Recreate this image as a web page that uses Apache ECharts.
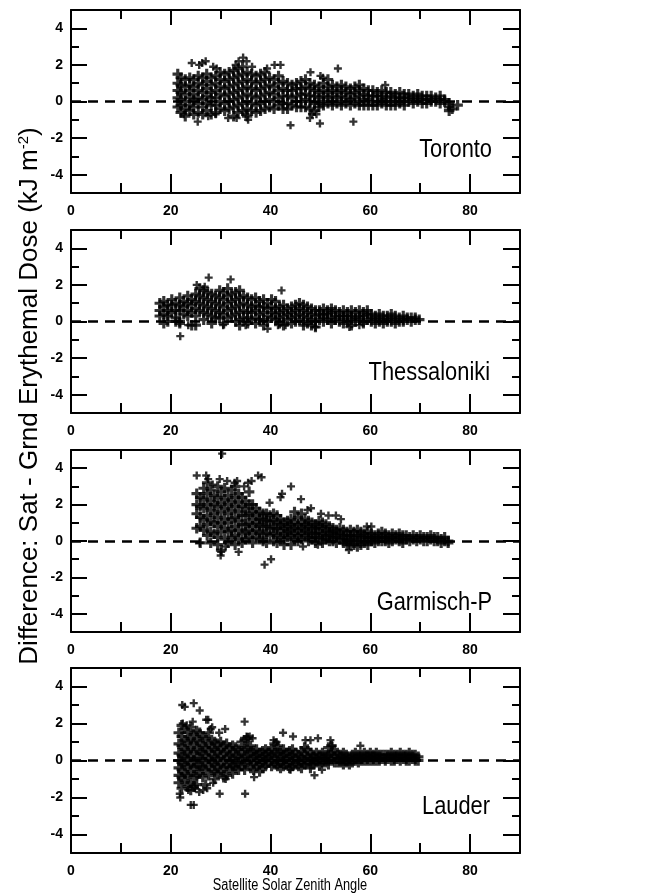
<!DOCTYPE html>
<html lang="en">
<head>
<meta charset="utf-8">
<title>Sat - Grnd Erythemal Dose</title>
<script src="https://cdn.jsdelivr.net/npm/echarts@6/dist/echarts.min.js"></script>
<style>
  * { margin: 0; padding: 0; }
  body { background: #fff; }
  #chart { width: 649px; height: 894px; }
</style>
</head>
<body>
<div id="chart"></div>
<script>
// station names, one per panel
var stations = ['Toronto', 'Thessaloniki', 'Garmisch-P', 'Lauder'];
var xLabels = [0, 20, 40, 60, 80];
var yLabels = [-4, -2, 0, 2, 4];

// values: [zenith angle, [differences at that angle]]
var torontoCols = [
  [21.4, [1.5, 1.0, 0.6, 0.2, -0.3]], [22.0, [1.3, 0.9, 0.5, 0.1, -0.2, -0.6]],
  [22.9, [1.2, 0.8, 0.4, 0.0, -0.4, -0.8]], [23.8, [1.3, 0.9, 0.6, 0.2, -0.2, -0.5]],
  [24.6, [1.2, 0.8, 0.4, 0.1, -0.3, -0.7]], [25.5, [1.4, 1.0, 0.6, 0.2, -0.1, -0.6]],
  [26.4, [1.3, 0.9, 0.5, 0.1, -0.3, -0.7]], [27.2, [1.5, 1.1, 0.7, 0.3, -0.1, -0.5]],
  [28.1, [1.3, 0.9, 0.5, 0.2, -0.2, -0.7]], [29.0, [1.4, 1.0, 0.6, 0.2, -0.2, -0.6]],
  [29.9, [1.6, 1.2, 0.8, 0.4, 0.0, -0.4]], [30.8, [1.5, 1.1, 0.7, 0.3, -0.1, -0.5]],
  [31.7, [1.6, 1.2, 0.8, 0.4, 0.0, -0.4]], [32.6, [1.7, 1.3, 0.9, 0.5, 0.1, -0.3, -0.8]],
  [33.5, [1.8, 1.4, 1.0, 0.6, 0.2, -0.2, -0.6]], [34.4, [1.9, 1.5, 1.1, 0.7, 0.3, -0.1, -0.5]],
  [35.3, [1.6, 1.2, 0.8, 0.4, 0.0, -0.4, -0.8]], [36.2, [1.5, 1.1, 0.7, 0.3, -0.1, -0.5]],
  [37.1, [1.4, 1.0, 0.6, 0.2, -0.2, -0.6]], [38.0, [1.5, 1.1, 0.7, 0.3, -0.1, -0.5]],
  [38.9, [1.6, 1.2, 0.8, 0.4, 0.0, -0.4]], [39.8, [1.3, 0.9, 0.5, 0.1, -0.3]],
  [40.7, [1.2, 0.8, 0.4, 0.0, -0.4]], [41.6, [1.4, 1.0, 0.6, 0.2, -0.2]],
  [42.5, [1.1, 0.7, 0.3, -0.1, -0.4]], [43.4, [1.0, 0.6, 0.3, -0.1, -0.4]],
  [44.3, [0.9, 0.6, 0.2, -0.2]], [45.2, [1.0, 0.7, 0.3, 0.0, -0.3]],
  [46.1, [1.1, 0.7, 0.4, 0.0, -0.3]], [47.0, [1.2, 0.8, 0.4, 0.1, -0.3]],
  [47.9, [1.0, 0.7, 0.3, 0.0, -0.4]], [48.8, [0.9, 0.6, 0.3, -0.1, -0.5]],
  [49.7, [0.8, 0.5, 0.2, -0.1, -0.3]], [50.6, [1.0, 0.6, 0.3, 0.0, -0.2]],
  [51.5, [1.2, 0.8, 0.5, 0.2, -0.1]], [52.4, [0.9, 0.6, 0.3, 0.0, -0.2]],
  [53.3, [0.8, 0.5, 0.2, -0.1]], [54.2, [0.9, 0.6, 0.3, 0.0, -0.2]],
  [55.1, [0.8, 0.5, 0.2, -0.1]], [56.0, [0.7, 0.4, 0.1, -0.2]],
  [56.9, [0.8, 0.5, 0.2, -0.1]], [57.8, [0.9, 0.6, 0.3, 0.0, -0.2]],
  [58.7, [0.7, 0.4, 0.1, -0.2]], [59.6, [0.6, 0.3, 0.1, -0.2]],
  [60.5, [0.6, 0.3, 0.0, -0.2]], [61.4, [0.5, 0.3, 0.0, -0.2]],
  [62.3, [0.6, 0.3, 0.1, -0.1]], [63.2, [0.5, 0.2, 0.0, -0.2]],
  [64.1, [0.5, 0.3, 0.0, -0.2]], [65.0, [0.4, 0.2, 0.0, -0.2]],
  [65.9, [0.5, 0.2, 0.0, -0.1]], [66.8, [0.4, 0.2, 0.0, -0.2]],
  [67.7, [0.4, 0.2, 0.0]], [68.6, [0.3, 0.1, -0.1]], [69.5, [0.4, 0.2, 0.0]],
  [70.4, [0.3, 0.1, -0.1]], [71.3, [0.3, 0.1, -0.1]], [72.2, [0.3, 0.1, 0.0]],
  [73.1, [0.2, 0.0]], [74.0, [0.3, 0.1, -0.1]], [74.9, [0.1, 0.0]],
  [75.8, [-0.1, -0.3, -0.5]], [76.4, [-0.4]], [77.5, [-0.2]]
];
var torontoOut = [
  [24.2, 2.1], [25.7, 2.0], [26.3, 2.1], [27.0, 2.2], [28.5, 1.9], [29.2, 1.8], [33.0, 2.0],
  [33.6, 2.2], [34.5, 2.4], [35.2, 2.2], [36.3, 1.9], [39.3, 1.8], [40.8, 2.0], [42.0, 2.0],
  [48.0, 1.6], [50.0, 1.4], [50.5, 1.3], [53.5, 1.8], [63.0, 0.9], [22.6, -0.7], [25.4, -1.1],
  [27.5, -0.8], [29.0, -0.7], [31.5, -0.9], [33.2, -0.9], [35.5, -1.0], [35.0, -0.7],
  [44.0, -1.3], [48.3, -0.7], [49.2, -0.7], [49.9, -1.2], [56.6, -1.1], [47.9, -0.9]
];

var thessCols = [
  [17.8, [1.0, 0.6, 0.3]], [18.6, [1.1, 0.8, 0.4, -0.1]], [19.4, [0.9, 0.6, 0.3, 0.0]],
  [20.2, [1.2, 0.9, 0.5]], [21.0, [1.0, 0.6, 0.2, 0.0]], [21.8, [1.3, 0.9, 0.6, 0.0, -0.1]],
  [22.6, [1.1, 0.8, 0.4]], [23.4, [1.4, 1.0, 0.6, 0.3]], [24.2, [1.2, 0.9, 0.5, -0.2]],
  [25.0, [1.5, 1.1, 0.7, 0.3, -0.2]], [25.8, [1.8, 1.4, 1.0, 0.6]], [26.6, [1.7, 1.3, 0.9, 0.5, 0.1]],
  [27.4, [1.6, 1.2, 0.8, 0.4]], [28.2, [1.5, 1.1, 0.7, 0.3, -0.1]], [29.0, [1.4, 1.0, 0.6, 0.2]],
  [29.8, [1.7, 1.3, 0.9, 0.5, 0.2]], [30.6, [1.6, 1.2, 0.8, 0.4, -0.1]], [31.4, [1.8, 1.4, 1.0, 0.6, 0.2]],
  [32.2, [1.5, 1.1, 0.7, 0.3]], [33.0, [1.6, 1.2, 0.8, 0.4, 0.0]], [33.8, [1.7, 1.3, 0.9, 0.5, 0.1, -0.2]],
  [34.6, [1.4, 1.0, 0.6, 0.2]], [35.4, [1.3, 0.9, 0.5, 0.2, -0.1]], [36.2, [1.2, 0.8, 0.5, 0.1]],
  [37.0, [1.3, 0.9, 0.6, 0.2, -0.1]], [37.8, [1.1, 0.8, 0.4, 0.1]], [38.6, [1.2, 0.8, 0.5, 0.1, -0.2]],
  [39.4, [1.0, 0.7, 0.3, 0.0]], [40.2, [1.2, 0.8, 0.5, 0.2]], [41.0, [1.1, 0.7, 0.4, 0.1]],
  [41.8, [0.8, 0.5, 0.2, -0.1]], [42.6, [0.9, 0.6, 0.3, -0.2]], [43.4, [0.7, 0.4, 0.1]],
  [44.2, [0.8, 0.5, 0.2, -0.1]], [45.0, [0.9, 0.6, 0.3, 0.0]], [45.8, [1.0, 0.7, 0.4, 0.1]],
  [46.6, [0.9, 0.6, 0.3, 0.0, -0.2]], [47.4, [0.8, 0.5, 0.2, -0.1]], [48.2, [0.7, 0.4, 0.1, -0.2]],
  [49.0, [0.6, 0.3, 0.0, -0.3]], [49.8, [0.6, 0.4, 0.1]], [50.6, [0.7, 0.4, 0.2, 0.0]],
  [51.4, [0.6, 0.4, 0.1]], [52.2, [0.7, 0.5, 0.2, -0.1]], [53.0, [0.6, 0.3, 0.1]],
  [53.8, [0.5, 0.3, 0.0]], [54.6, [0.6, 0.3, 0.1, -0.1]], [55.4, [0.5, 0.3, 0.0]],
  [56.2, [0.6, 0.3, 0.1, -0.2]], [57.0, [0.5, 0.2, 0.0]], [57.8, [0.6, 0.3, 0.1]],
  [58.6, [0.5, 0.3, 0.0, -0.1]], [59.4, [0.6, 0.4, 0.1]], [60.2, [0.4, 0.2, 0.0]],
  [61.0, [0.3, 0.1, -0.1]], [61.8, [0.4, 0.2, 0.0]], [62.6, [0.3, 0.1, -0.1]],
  [63.4, [0.3, 0.1, 0.0]], [64.2, [0.4, 0.2, 0.0]], [65.0, [0.3, 0.1, -0.1]],
  [65.8, [0.2, 0.0]], [66.6, [0.3, 0.1, 0.0]], [67.4, [0.2, 0.1]], [68.2, [0.2, 0.0]],
  [69.0, [0.2, 0.1]], [69.8, [0.1]]
];
var thessOut = [
  [27.6, 2.4], [32.0, 2.3], [42.2, 1.7], [25.2, 2.0], [26.8, 1.9], [21.9, -0.8], [39.4, -0.4],
  [23.5, -0.2], [30.5, -0.2], [35.0, -0.2], [41.5, -0.2], [43.0, -0.2], [49.0, -0.3],
  [55.8, -0.3], [57.8, -0.2]
];

var garmCols = [
  [25.2, [2.6, 2.0, 1.5, 0.7]], [25.9, [2.4, 1.9, 1.3, 0.8, -0.1]], [26.6, [2.9, 2.3, 1.8, 1.2, 0.6]],
  [27.3, [3.2, 2.6, 2.0, 1.4, 0.9, 0.3]], [28.0, [2.8, 2.2, 1.7, 1.1, 0.5, -0.1]],
  [28.7, [2.5, 2.0, 1.5, 1.0, 0.4]], [29.4, [3.0, 2.4, 1.9, 1.3, 0.8, 0.2, -0.2]],
  [30.1, [2.7, 2.1, 1.6, 1.0, 0.5, -0.5]], [30.8, [2.9, 2.3, 1.8, 1.2, 0.7, 0.1]],
  [31.5, [2.5, 2.0, 1.5, 1.0, 0.5, -0.1]], [32.2, [2.8, 2.2, 1.7, 1.2, 0.6, 0.2]],
  [32.9, [3.0, 2.4, 1.9, 1.3, 0.8, 0.3, -0.2]], [33.6, [2.6, 2.1, 1.6, 1.1, 0.6, 0.1]],
  [34.3, [2.4, 1.9, 1.4, 0.9, 0.4, -0.1]], [35.0, [2.2, 1.8, 1.4, 0.9, 0.5, 0.1]],
  [35.7, [2.7, 2.0, 1.5, 1.0, 0.6, 0.2]], [36.4, [2.0, 1.6, 1.2, 0.8, 0.4, -0.1]],
  [37.1, [1.8, 1.4, 1.0, 0.6, 0.2]], [37.8, [1.6, 1.2, 0.9, 0.5, 0.1]],
  [38.5, [1.5, 1.2, 0.8, 0.4, 0.0]], [39.2, [1.5, 1.1, 0.8, 0.4, -0.1]],
  [39.9, [1.4, 1.1, 0.7, 0.3]], [40.6, [1.5, 1.1, 0.7, 0.4, 0.0]],
  [41.3, [1.4, 1.0, 0.7, 0.3, -0.1]], [42.0, [1.2, 0.9, 0.6, 0.2]],
  [42.7, [1.0, 0.7, 0.4, 0.1, -0.2]], [43.4, [1.1, 0.8, 0.5, 0.2]],
  [44.1, [1.2, 0.9, 0.6, 0.3, -0.2]], [44.8, [1.6, 1.0, 0.7, 0.4, 0.1]],
  [45.5, [1.3, 0.9, 0.6, 0.3, 0.0]], [46.2, [1.5, 1.0, 0.7, 0.4, 0.1]],
  [46.9, [1.2, 0.9, 0.6, 0.3]], [47.6, [1.1, 0.8, 0.5, 0.2, 0.0]], [48.3, [1.0, 0.7, 0.4, 0.1]],
  [49.0, [0.9, 0.7, 0.4, 0.2, -0.1]], [49.7, [1.1, 0.8, 0.5, 0.2]],
  [50.4, [1.0, 0.7, 0.4, 0.1, -0.1]], [51.1, [0.9, 0.6, 0.3, 0.1]], [51.8, [0.8, 0.5, 0.3, 0.0]],
  [52.5, [0.7, 0.5, 0.2, 0.0]], [53.2, [0.6, 0.4, 0.2, -0.1]], [53.9, [0.7, 0.4, 0.1]],
  [54.6, [0.6, 0.3, 0.1, -0.1]], [55.3, [0.5, 0.3, 0.0, -0.2]], [56.0, [0.6, 0.3, 0.1, -0.2]],
  [56.7, [0.5, 0.2, 0.0, -0.2]], [57.4, [0.6, 0.3, 0.0, -0.3]], [58.1, [0.5, 0.3, 0.0, -0.2]],
  [58.8, [0.4, 0.2, -0.1]], [59.5, [0.5, 0.2, 0.0, -0.2]], [60.2, [0.4, 0.2, 0.0]],
  [60.9, [0.3, 0.1, -0.1]], [61.6, [0.4, 0.2, 0.0]], [62.3, [0.5, 0.2, 0.0]],
  [63.0, [0.4, 0.2, 0.0]], [63.7, [0.3, 0.1, -0.1]], [64.4, [0.4, 0.2, 0.0]],
  [65.1, [0.3, 0.1]], [65.8, [0.4, 0.2, 0.0]], [66.5, [0.3, 0.1, -0.1]], [67.2, [0.3, 0.1]],
  [67.9, [0.2, 0.0]], [68.6, [0.3, 0.1]], [69.3, [0.2, 0.0]], [70.0, [0.3, 0.1]],
  [70.7, [0.2, 0.0]], [71.4, [0.2, 0.0]], [72.1, [0.3, 0.1]], [72.8, [0.2, 0.0]],
  [73.5, [0.2, 0.0]], [74.2, [0.1, -0.1]], [74.9, [0.2, 0.0]], [75.6, [0.0, -0.1]]
];
var garmOut = [
  [25.2, 3.6], [27.1, 3.6], [27.5, 3.4], [28.4, 3.1], [29.8, 3.4], [30.3, 4.8], [31.3, 3.3],
  [32.8, 3.2], [33.3, 3.3], [34.7, 3.0], [35.5, 3.2], [36.2, 3.3], [37.5, 3.6], [38.2, 3.5],
  [39.8, 2.1], [42.0, 2.4], [42.3, 2.6], [44.1, 3.0], [46.1, 2.3], [47.4, 1.7], [48.1, 1.8],
  [50.1, 1.5], [51.6, 1.4], [53.1, 1.4], [54.1, 1.2], [59.3, 0.8], [60.2, 0.8], [30.0, -0.8],
  [30.1, -0.6], [33.6, -0.6], [38.8, -1.3], [40.1, -1.0], [55.7, -0.5], [25.8, -0.1],
  [31.0, -0.3], [46.5, -0.3], [49.5, -0.2]
];

var lauderCols = [
  [21.6, [1.5, 0.9, 0.4, 0.0, -0.4, -0.8, -1.2]], [22.2, [1.9, 1.3, 0.8, 0.3, -0.1, -0.5, -0.9, -1.5]],
  [22.8, [1.7, 1.1, 0.6, 0.2, -0.2, -0.7, -1.1]], [23.4, [1.5, 1.0, 0.5, 0.1, -0.3, -0.8, -1.4]],
  [24.0, [1.8, 1.2, 0.7, 0.2, -0.2, -0.6, -1.2, -1.6]], [24.6, [1.4, 0.9, 0.4, 0.0, -0.4, -0.9, -1.4]],
  [25.2, [1.6, 1.1, 0.6, 0.1, -0.3, -0.8, -1.3]], [25.8, [1.5, 1.0, 0.5, 0.1, -0.3, -0.7]],
  [26.4, [1.3, 0.8, 0.4, 0.0, -0.4, -0.9]], [27.0, [1.2, 0.7, 0.3, -0.1, -0.5, -1.3]],
  [27.6, [1.5, 0.9, 0.5, 0.1, -0.3, -0.8]], [28.2, [1.1, 0.7, 0.3, -0.1, -0.5]],
  [28.8, [1.0, 0.6, 0.2, -0.2, -0.6, -1.0]], [29.4, [0.9, 0.5, 0.1, -0.3, -0.7]],
  [30.0, [1.0, 0.6, 0.2, -0.2, -0.6]], [30.6, [0.8, 0.4, 0.0, -0.4, -0.9]],
  [31.2, [0.9, 0.5, 0.1, -0.3, -0.8]], [31.8, [0.7, 0.3, 0.0, -0.4]],
  [32.4, [0.8, 0.4, 0.0, -0.3, -0.7]], [33.0, [0.7, 0.3, -0.1, -0.4]],
  [33.6, [0.6, 0.2, -0.1, -0.5]], [34.2, [1.0, 0.5, 0.1, -0.3]],
  [34.8, [1.1, 0.6, 0.2, -0.2, -0.5]], [35.4, [1.2, 0.7, 0.3, -0.1]],
  [36.0, [0.8, 0.4, 0.0, -0.4]], [36.6, [0.5, 0.2, -0.1, -0.5]], [37.2, [0.6, 0.3, 0.0, -0.3]],
  [37.8, [0.4, 0.1, -0.2, -0.6]], [38.4, [0.5, 0.2, -0.1, -0.4]], [39.0, [0.6, 0.3, 0.0, -0.3]],
  [39.6, [0.5, 0.2, -0.1]], [40.2, [0.6, 0.3, 0.0, -0.3]], [40.8, [0.9, 0.4, 0.1, -0.2]],
  [41.4, [0.8, 0.4, 0.0, -0.3]], [42.0, [0.5, 0.2, -0.1, -0.4]], [42.6, [0.6, 0.3, 0.0, -0.3]],
  [43.2, [0.4, 0.1, -0.2]], [43.8, [0.5, 0.2, -0.1, -0.4]], [44.4, [0.6, 0.3, 0.0, -0.3]],
  [45.0, [0.4, 0.1, -0.2]], [45.6, [0.3, 0.0, -0.3]], [46.2, [0.5, 0.2, -0.1, -0.4]],
  [46.8, [0.7, 0.3, 0.0, -0.2]], [47.4, [0.6, 0.2, -0.1]], [48.0, [0.4, 0.1, -0.2, -0.4]],
  [48.6, [0.3, 0.1, -0.2]], [49.2, [0.4, 0.1, -0.1]], [49.8, [0.3, 0.0, -0.2]],
  [50.4, [0.4, 0.2, -0.1]], [51.0, [0.3, 0.1, -0.1]], [51.6, [0.7, 0.3, 0.0, -0.2]],
  [52.2, [0.8, 0.4, 0.1]], [52.8, [0.5, 0.2, -0.1]], [53.4, [0.4, 0.1, -0.1]],
  [54.0, [0.3, 0.1, -0.1]], [54.6, [0.4, 0.2, 0.0, -0.2]], [55.2, [0.3, 0.1, -0.1]],
  [55.8, [0.2, 0.0, -0.2]], [56.4, [0.3, 0.1, -0.1]], [57.0, [0.4, 0.2, 0.0]],
  [57.6, [0.3, 0.1, -0.1]], [58.2, [0.3, 0.1, 0.0]], [58.8, [0.4, 0.2, 0.0]],
  [59.4, [0.3, 0.1, 0.0]], [60.0, [0.4, 0.2, 0.0]], [60.6, [0.3, 0.1, 0.0]],
  [61.2, [0.4, 0.2, 0.0]], [61.8, [0.3, 0.1, 0.0]], [62.4, [0.3, 0.1]], [63.0, [0.3, 0.1, 0.0]],
  [63.6, [0.3, 0.1]], [64.2, [0.4, 0.2, 0.0]], [64.8, [0.3, 0.1, 0.0]], [65.4, [0.3, 0.1]],
  [66.0, [0.4, 0.2, 0.0]], [66.6, [0.3, 0.1]], [67.2, [0.3, 0.1, 0.0]], [67.8, [0.4, 0.2, 0.0]],
  [68.4, [0.3, 0.1]], [69.0, [0.3, 0.1, 0.0]], [69.6, [0.2, 0.0]]
];
var lauderOut = [
  [22.3, 3.0], [22.8, 2.9], [24.6, 3.1], [25.8, 2.7], [22.4, 2.0], [23.2, 1.9], [24.4, 2.1],
  [27.1, 2.2], [27.5, 2.2], [28.3, 1.8], [28.0, 1.7], [30.9, 1.7], [29.7, 1.5], [34.8, 2.1],
  [35.2, 1.3], [35.8, 1.3], [36.4, 1.2], [40.6, 1.1], [41.2, 1.0], [42.5, 1.5], [44.5, 1.3],
  [47.0, 1.1], [48.0, 1.1], [49.5, 1.2], [52.0, 1.1], [52.4, 0.8], [58.0, 0.8], [21.8, -1.8],
  [21.9, -2.0], [23.5, -1.6], [24.0, -2.4], [24.6, -2.4], [24.8, -1.5], [25.7, -1.7],
  [26.5, -1.6], [27.3, -1.5], [28.5, -1.2], [29.8, -1.8], [34.9, -1.8], [31.0, -1.0],
  [36.7, -0.9], [44.0, -0.5], [48.8, -0.8], [50.3, -0.5]
];

var panelCols = [torontoCols, thessCols, garmCols, lauderCols];
var panelOut = [torontoOut, thessOut, garmOut, lauderOut];

function colPoints(cols) {
  var pts = [];
  cols.forEach(function (c) {
    c[1].forEach(function (y) { pts.push([c[0], y]); });
  });
  return pts;
}

// panel boxes (pixel layout)
var gridTops = [10, 230, 450, 668];
var gridHeights = [183, 183, 182, 185];
var labelY = [150, 373, 603, 807];
var labelRight = [492, 490, 492, 490];

var sans = "'Liberation Sans', Arial, sans-serif";
// heavy plus sign
var plus = 'path://M3.5,0h3v3.5h3.5v3h-3.5v3.5h-3v-3.5h-3.5v-3h3.5z';

var chart = echarts.init(document.getElementById('chart'));

var grids = [], xAxes = [], yAxes = [], series = [], graphics = [];

function xAxis(gi, pos, ticks, len, showLine, labels) {
  return {
    type: 'value', gridIndex: gi, position: pos, min: 0, max: 90,
    splitLine: { show: false },
    axisLine: { show: showLine, onZero: false, lineStyle: { color: '#000', width: 2 } },
    axisTick: { inside: true, length: len, customValues: ticks, lineStyle: { color: '#000', width: 2 } },
    axisLabel: labels ? { customValues: labels, color: '#000', fontSize: 14, fontWeight: 'bold', fontFamily: sans, margin: 11 } : { show: false }
  };
}
function yAxis(gi, pos, ticks, len, showLine, labels) {
  return {
    type: 'value', gridIndex: gi, position: pos, min: -5, max: 5,
    splitLine: { show: false },
    axisLine: { show: showLine, onZero: false, lineStyle: { color: '#000', width: 2 } },
    axisTick: { inside: true, length: len, customValues: ticks, lineStyle: { color: '#000', width: 2 } },
    axisLabel: labels ? { customValues: labels, color: '#000', fontSize: 14, fontWeight: 'bold', fontFamily: sans, margin: 8 } : { show: false }
  };
}

for (var i = 0; i < 4; i++) {
  grids.push({ left: 71, width: 449, top: gridTops[i], height: gridHeights[i] });

  xAxes.push(xAxis(i, 'bottom', [20, 40, 60, 80], 19, true, xLabels));
  xAxes.push(xAxis(i, 'bottom', [10, 30, 50, 70], 10, false, null));
  xAxes.push(xAxis(i, 'top', [20, 40, 60, 80], 15, true, null));
  xAxes.push(xAxis(i, 'top', [10, 30, 50, 70], 9, false, null));

  yAxes.push(yAxis(i, 'left', yLabels, 16, true, yLabels));
  yAxes.push(yAxis(i, 'left', [-3, -1, 1, 3], 8, false, null));
  yAxes.push(yAxis(i, 'right', yLabels, 17, true, null));
  yAxes.push(yAxis(i, 'right', [-3, -1, 1, 3], 8, false, null));

  // dense core of the cloud
  series.push({
    type: 'scatter',
    xAxisIndex: i * 4, yAxisIndex: i * 4,
    symbol: plus, symbolSize: 10.5,
    itemStyle: { color: '#000' },
    data: colPoints(panelCols[i]),
    markLine: {
      silent: true, symbol: 'none', label: { show: false },
      lineStyle: { color: '#000', width: 2.5, type: [10, 7] },
      data: [{ yAxis: 0 }]
    }
  });
  // scattered outliers
  series.push({
    type: 'scatter',
    xAxisIndex: i * 4, yAxisIndex: i * 4,
    symbol: plus, symbolSize: 8,
    itemStyle: { color: '#000' },
    data: panelOut[i]
  });

  graphics.push({
    type: 'text', x: labelRight[i], y: labelY[i], scaleX: 0.84,
    style: { text: stations[i], fill: '#000', font: '26px ' + sans, align: 'right', verticalAlign: 'middle' }
  });
}

graphics.push({
  type: 'text', x: 30, y: 396, rotation: Math.PI / 2,
  style: {
    text: '{a|Difference: Sat - Grnd Erythemal Dose (kJ m}{s|-2}{a|)}',
    align: 'center', verticalAlign: 'middle', fill: '#000',
    rich: {
      a: { fontSize: 26, fontFamily: sans, fill: '#000' },
      s: { fontSize: 15, fontFamily: sans, fill: '#000', padding: [0, 0, 12, 0] }
    }
  }
});
graphics.push({
  type: 'text', x: 290, y: 886, scaleX: 0.8,
  style: { text: 'Satellite Solar Zenith Angle', fill: '#000', font: '16px ' + sans, align: 'center', verticalAlign: 'middle' }
});

chart.setOption({
  animation: false,
  grid: grids,
  xAxis: xAxes,
  yAxis: yAxes,
  series: series,
  graphic: graphics
});
</script>
</body>
</html>
